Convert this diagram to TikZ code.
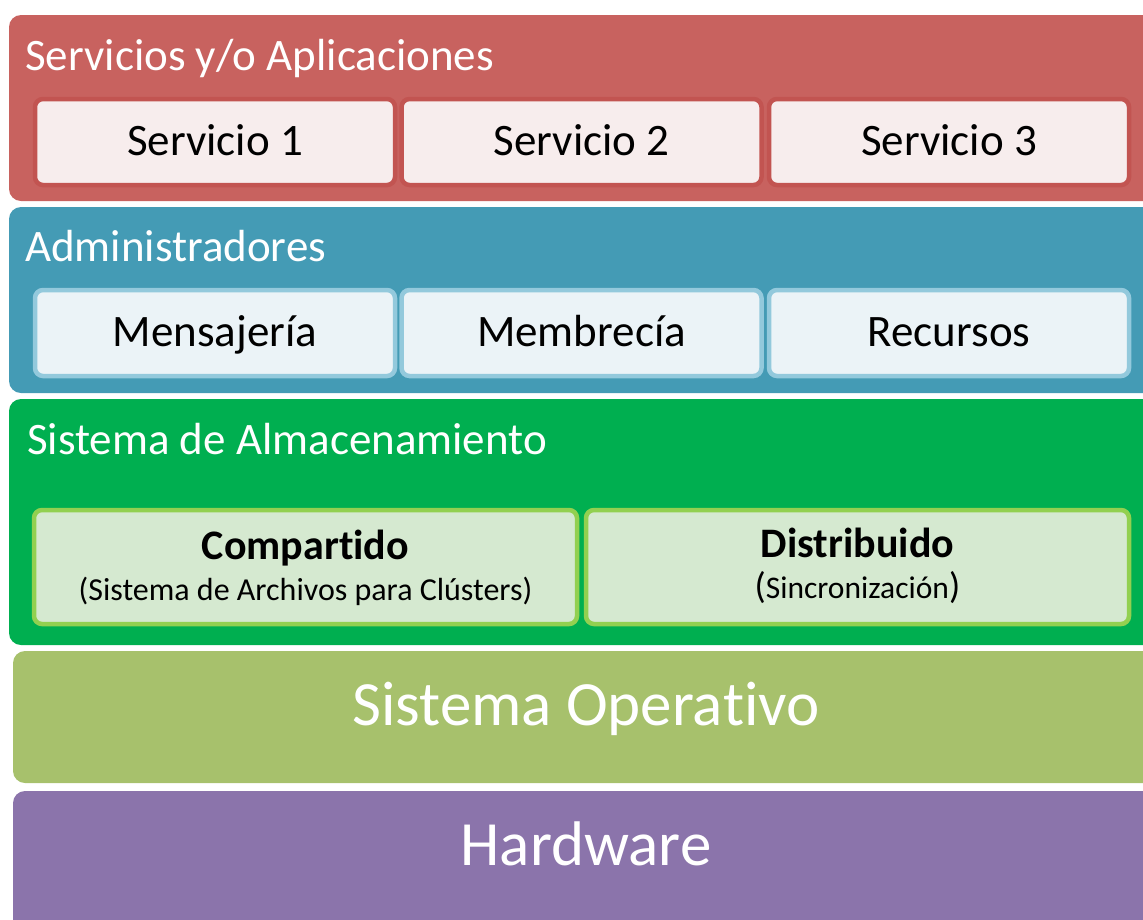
\documentclass[tikz,border=0pt]{standalone}
\usepackage{fontspec}
\setmainfont{Carlito}[RawFeature={-liga;-clig;-calt;-dlig}]
\definecolor{redL}{HTML}{C8625F}
\definecolor{redB}{HTML}{C25451}
\definecolor{redF}{HTML}{F7EDED}
\definecolor{blueL}{HTML}{449BB5}
\definecolor{blueB}{HTML}{93C9DC}
\definecolor{blueF}{HTML}{EBF3F7}
\definecolor{greenL}{HTML}{00AF50}
\definecolor{greenB}{HTML}{92D050}
\definecolor{greenF}{HTML}{D5E9D0}
\definecolor{oliveL}{HTML}{A7C16C}
\definecolor{purpleL}{HTML}{8B74AB}
\tikzset{
  layer/.style={rounded corners=12pt},
  ltitle/.style={anchor=base west, inner sep=0pt, text=white, font=\fontsize{45}{54}\selectfont},
  bigtitle/.style={anchor=base, inner sep=0pt, text=white, font=\fontsize{63}{76}\selectfont},
  ibox/.style={rounded corners=8pt, line width=4.5pt, inner sep=0pt, text height=26pt, text depth=0pt, font=\fontsize{45}{54}\selectfont},
  redbox/.style={ibox, draw=redB, fill=redF, minimum width=360pt, minimum height=86pt},
  bluebox/.style={ibox, draw=blueB, fill=blueF, minimum width=360pt, minimum height=86pt},
  greenbox/.style={ibox, draw=greenB, fill=greenF, minimum width=543pt, minimum height=114pt},
  boxlabel/.style={anchor=base, inner sep=0pt},
}
\begin{document}
\begin{tikzpicture}[x=1pt,y=-1pt]
\useasboundingbox (0,0) rectangle (1143,919);
\clip (0,0) rectangle (1143,919);
% layers
\fill[layer, redL] (9,15) rectangle (1180,201);
\fill[layer, blueL] (9,207) rectangle (1180,393);
\fill[layer, greenL] (9,399) rectangle (1180,645);
\fill[layer, oliveL] (13,651) rectangle (1180,783);
\fill[layer, purpleL] (13,791) rectangle (1180,960);
% titles
\node[ltitle] (t1) at (25,70) {Servicios y/o Aplicaciones};
\node[ltitle] (t2) at (25,261) {Administradores};
\node[ltitle] (t3) at (27,454) {Sistema de Almacenamien\kern0pt to};
\node[bigtitle] (t4) at (586,725) {Sistema Opera\kern0pt t\kern0pt ivo};
\node[bigtitle] (t5) at (586,865) {Hardware};
% services
\node[redbox] (s1) at (215,142) {Servicio 1};
\node[redbox] (s2) at (581.5,142) {Servicio 2};
\node[redbox] (s3) at (949,142) {Servicio 3};
% administrators
\node[bluebox] (a1) at (215,333) {Mensajería};
\node[bluebox] (a2) at (581.5,333) {Membrecía};
\node[bluebox] (a3) at (949,333) {Recursos};
% storage
\node[greenbox] (g1) at (305.5,567) {};
\node[greenbox] (g2) at (857.5,567) {};
\node[boxlabel, font=\fontsize{42}{50}\selectfont\bfseries] (g1a) at (g1.center |- 0,559) {Compar\kern0pt t\kern0pt ido};
\node[boxlabel, font=\fontsize{32}{38}\selectfont] (g1b) at (g1.center |- 0,600) {(Sistema de Archivos para Clústers)};
\node[boxlabel, font=\fontsize{42}{50}\selectfont\bfseries] (g2a) at (g2.center |- 0,557) {Distribuido};
\node[boxlabel] (g2b) at (g2.center |- 0,598) {{\fontsize{37}{44}\selectfont(}{\fontsize{31.5}{38}\selectfont Sincronización}{\fontsize{37}{44}\selectfont)}};
\end{tikzpicture}
\end{document}
